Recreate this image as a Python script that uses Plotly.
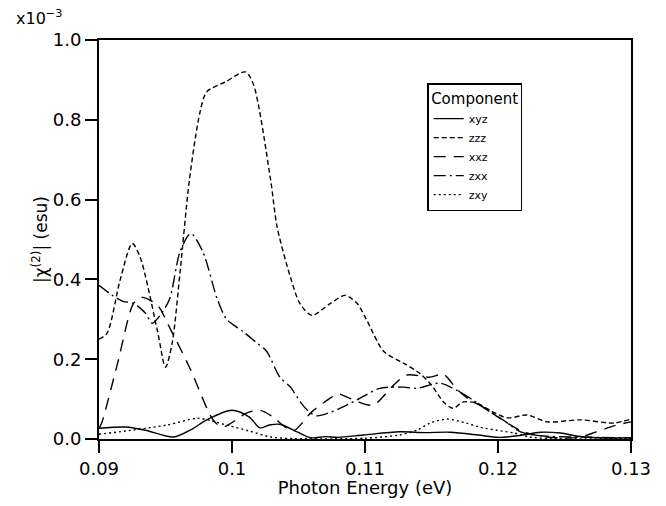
import plotly.graph_objects as go

# values, |chi(2)| in units of 1e-3 esu
xyz_x = [0.09, 0.092, 0.0935, 0.0956, 0.097, 0.0981, 0.1, 0.1013, 0.1021, 0.1028, 0.1036,
         0.1049, 0.1059, 0.107, 0.108, 0.1099, 0.1126, 0.1145, 0.1164, 0.1185, 0.12, 0.1215,
         0.1232, 0.1247, 0.126, 0.1275, 0.13]
xyz_y = [0.027, 0.03, 0.022, 0.005, 0.025, 0.048, 0.072, 0.055, 0.028, 0.035, 0.037,
         0.018, 0.003, 0.006, 0.004, 0.01, 0.018, 0.016, 0.017, 0.01, 0.004, 0.008,
         0.017, 0.015, 0.007, 0.003, 0.003]

zzz_x = [0.09, 0.0906, 0.0916, 0.0925, 0.0931, 0.0944, 0.095, 0.0955, 0.0961, 0.0968, 0.0976,
         0.0981, 0.0995, 0.101, 0.1016, 0.1029, 0.1034, 0.1044, 0.1051, 0.106, 0.1074, 0.1085,
         0.1094, 0.1101, 0.1114, 0.1129, 0.1141, 0.115, 0.1159, 0.1166, 0.1174, 0.1184, 0.1195,
         0.1207, 0.1222, 0.1237, 0.1262, 0.1287, 0.13]
zzz_y = [0.25, 0.265, 0.40, 0.49, 0.455, 0.27, 0.18, 0.24, 0.42, 0.65, 0.82,
         0.87, 0.895, 0.92, 0.89, 0.65, 0.53, 0.405, 0.34, 0.31, 0.34, 0.36,
         0.34, 0.30, 0.22, 0.19, 0.165, 0.135, 0.093, 0.077, 0.093, 0.09, 0.07,
         0.053, 0.06, 0.043, 0.048, 0.04, 0.05]

xxz_x = [0.09, 0.0902, 0.0914, 0.0926, 0.0932, 0.0944, 0.0953, 0.0968, 0.0986, 0.0993, 0.1011,
         0.1021, 0.1031, 0.1038, 0.1046, 0.106, 0.1075, 0.108, 0.109, 0.1106, 0.112, 0.1131,
         0.1149, 0.1159, 0.1169, 0.1178, 0.119, 0.12, 0.1219, 0.1237, 0.126, 0.1274, 0.1287, 0.13]
xxz_y = [0.027, 0.04, 0.19, 0.34, 0.355, 0.335, 0.28, 0.18, 0.047, 0.03, 0.065,
         0.072, 0.055, 0.035, 0.02, 0.068, 0.105, 0.113, 0.1, 0.085, 0.13, 0.16,
         0.155, 0.162, 0.125, 0.1, 0.078, 0.055, 0.018, 0.005, 0.004, 0.018, 0.033, 0.043]

zxx_x = [0.09, 0.091, 0.0918, 0.0926, 0.0935, 0.094, 0.0946, 0.0953, 0.0961, 0.0969, 0.0978,
         0.0989, 0.0996, 0.1008, 0.1019, 0.1026, 0.1036, 0.1044, 0.1052, 0.1058, 0.1064, 0.108,
         0.1094, 0.1111, 0.1129, 0.1139, 0.1156, 0.1169, 0.1181, 0.1192, 0.1202, 0.1217, 0.1232,
         0.126, 0.13]
zxx_y = [0.385, 0.36, 0.345, 0.34, 0.315, 0.29, 0.31, 0.35, 0.47, 0.515, 0.47,
         0.35, 0.30, 0.27, 0.24, 0.22, 0.155, 0.13, 0.09, 0.068, 0.058, 0.075,
         0.098, 0.127, 0.13, 0.127, 0.14, 0.122, 0.098, 0.072, 0.052, 0.018, 0.008,
         0.005, 0.003]

zxy_x = [0.09, 0.092, 0.0951, 0.0974, 0.0985, 0.0998, 0.1013, 0.1029, 0.1046, 0.11, 0.1126,
         0.1139, 0.1149, 0.1162, 0.1176, 0.1186, 0.1199, 0.1212, 0.1224, 0.124, 0.13]
zxy_y = [0.012, 0.02, 0.035, 0.052, 0.045, 0.033, 0.02, 0.005, 0.001, 0.002, 0.01,
         0.022, 0.04, 0.05, 0.04, 0.03, 0.022, 0.015, 0.005, 0.001, 0.001]

x_ticks = [0.09, 0.1, 0.11, 0.12, 0.13]
x_labels = ["0.09", "0.1", "0.11", "0.12", "0.13"]
y_ticks = [0.0, 0.2, 0.4, 0.6, 0.8, 1.0]

series = [
    ("xyz", xyz_x, xyz_y, "solid"),
    ("zzz", zzz_x, zzz_y, "5px,3px"),
    ("xxz", xxz_x, xxz_y, "12px,8px"),
    ("zxx", zxx_x, zxx_y, "12px,4px,2px,4px"),
    ("zxy", zxy_x, zxy_y, "2px,3px"),
]

font = "DejaVu Sans"

fig = go.Figure()
for name, xs, ys, dash in series:
    fig.add_trace(go.Scatter(
        x=xs, y=ys, name=name, mode="lines",
        line=dict(color="black", width=1.4, dash=dash, shape="spline", smoothing=0.8),
    ))

axis_common = dict(
    showline=True, linecolor="black", linewidth=2, mirror=True,
    ticks="outside", ticklen=12, tickwidth=1.5, tickcolor="black",
    showgrid=False, zeroline=False, automargin=False,
    tickfont=dict(family=font, size=18, color="black"),
)

fig.update_xaxes(
    range=[0.09, 0.13], tickvals=x_ticks, ticktext=x_labels,
    title=dict(text="Photon Energy (eV)", font=dict(family=font, size=18, color="black")),
    **axis_common,
)
fig.update_yaxes(
    range=[0, 1.0], tickvals=y_ticks, tickformat=".1f",
    title=dict(text="|χ<sup>(2)</sup>| (esu)", font=dict(family=font, size=17, color="black"), standoff=1),
    **axis_common,
)

fig.add_annotation(
    text="x10<sup>−3</sup>", xref="paper", yref="paper", x=-0.16, y=1.025,
    xanchor="left", yanchor="bottom", showarrow=False,
    font=dict(family=font, size=16, color="black"),
)

# page body has an 8px margin, so the figure is drawn 8px smaller than the window
fig.update_layout(
    width=650, height=490,
    margin=dict(l=91, r=27, t=32, b=59),
    plot_bgcolor="white", paper_bgcolor="white",
    legend=dict(
        title=dict(text="Component", font=dict(family=font, size=15, color="black"), side="top center"),
        x=0.617, y=0.892, xanchor="left", yanchor="top",
        bordercolor="black", borderwidth=1.5, bgcolor="white",
        font=dict(family=font, size=11, color="black"),
        tracegroupgap=0, itemwidth=30,
    ),
)

fig.write_html("out.html")
